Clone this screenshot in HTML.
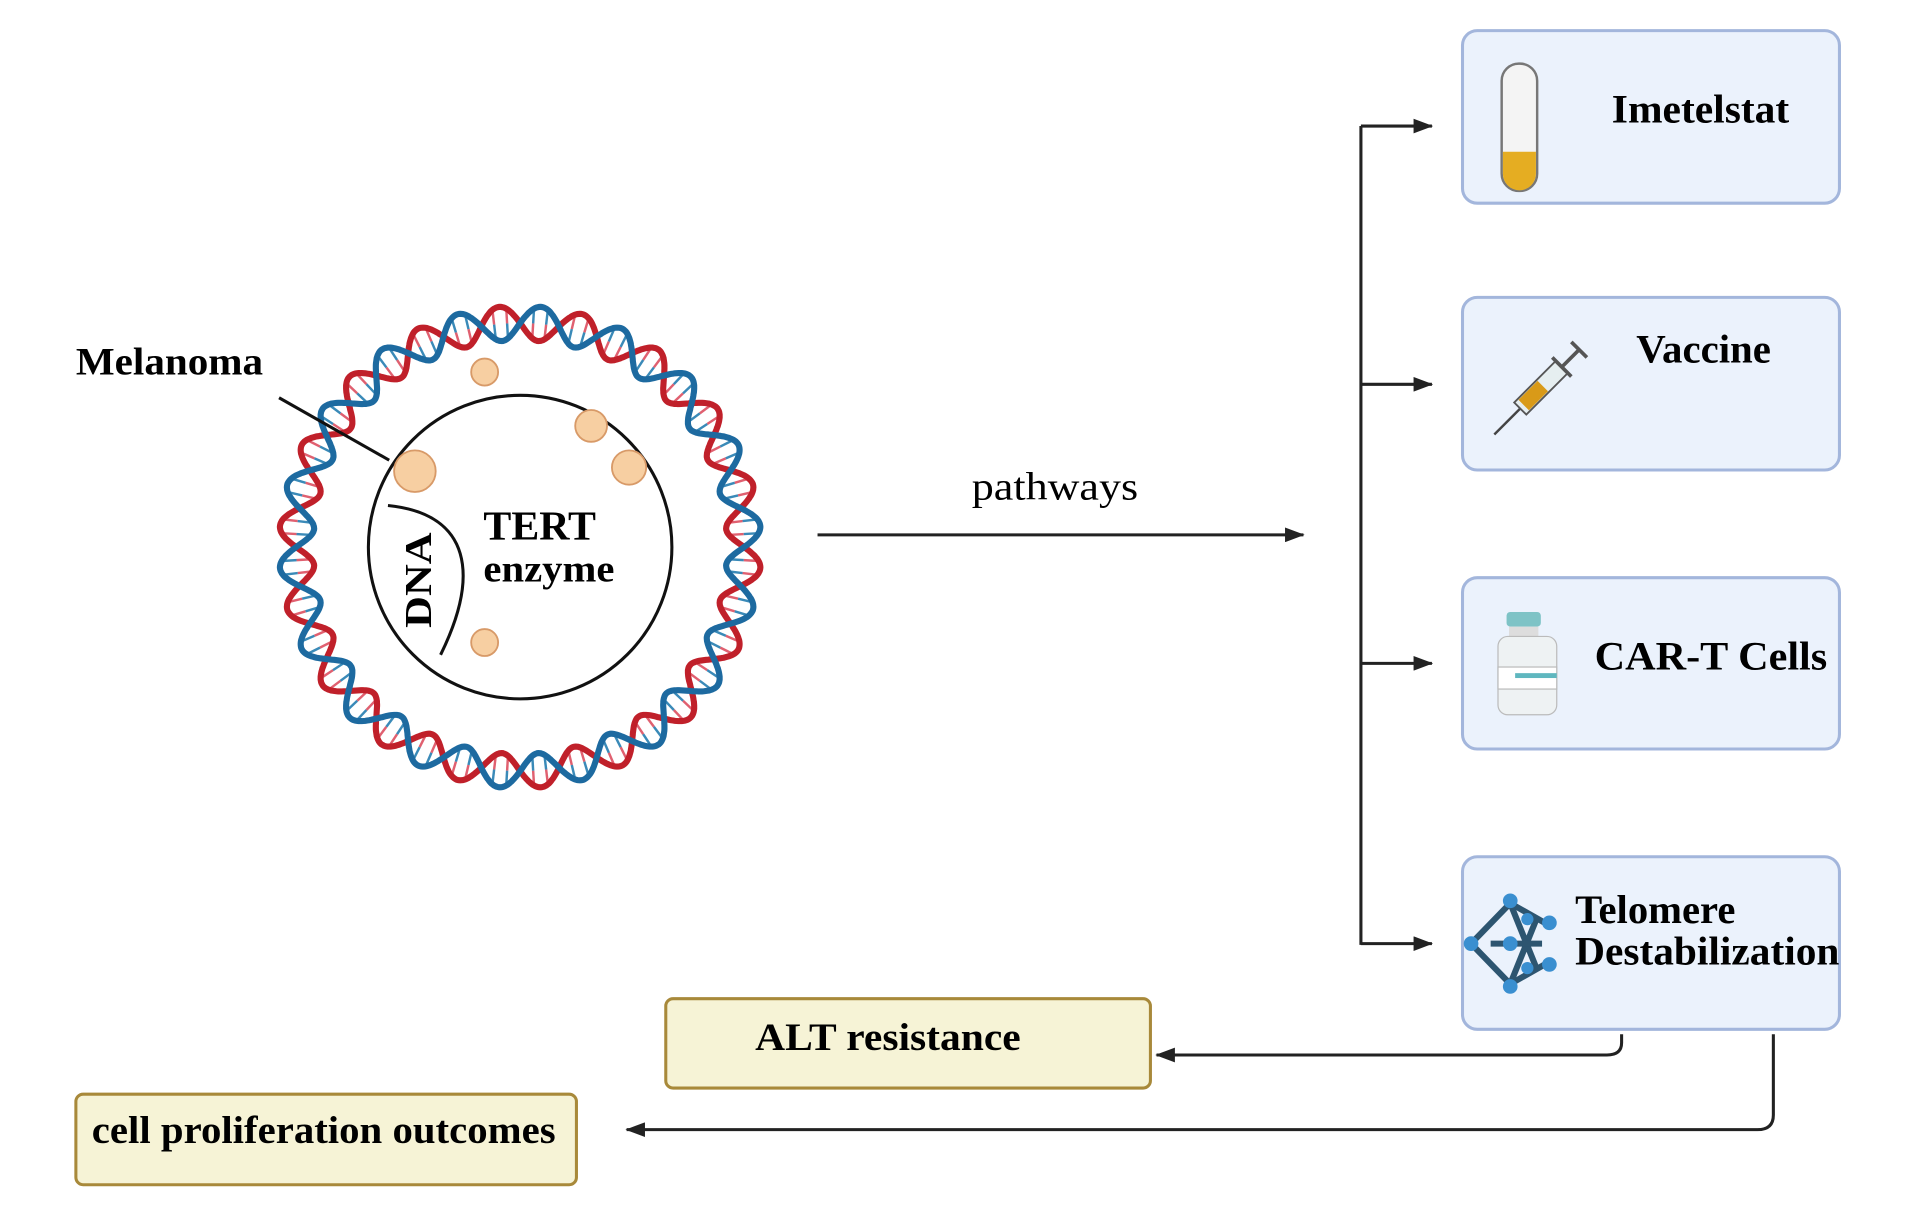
<!DOCTYPE html>
<html><head><meta charset="utf-8"><style>
html,body{margin:0;padding:0;background:#fff;}
svg{display:block;}
text{font-family:"Liberation Serif",serif;}
</style></head><body>
<svg id="s" width="1919" height="1219" viewBox="0 0 1568 996" preserveAspectRatio="none">
<defs><marker id="b" markerWidth="16" markerHeight="12" refX="15" refY="6" orient="auto" markerUnits="userSpaceOnUse"><path d="M0,0 L16,6 L0,12z" fill="#222"/></marker></defs>
<g id="helix"></g>
<circle cx="425" cy="447" r="124" fill="none" stroke="#111" stroke-width="2.5"/>
<path d="M317,413 C385,420 392,470 360,535" fill="none" stroke="#111" stroke-width="2.5"/>
<line x1="228" y1="325" x2="318" y2="376" stroke="#111" stroke-width="2.5"/>
<g fill="#f7cfa2" stroke="#d89a68" stroke-width="1.5">
<circle cx="339" cy="385" r="17"/><circle cx="396" cy="304" r="11"/><circle cx="483" cy="348" r="13"/><circle cx="514" cy="382" r="14"/><circle cx="396" cy="525" r="11"/></g>
<g font-weight="bold">
<text x="62" y="306" font-size="32" textLength="153" lengthAdjust="spacingAndGlyphs">Melanoma</text>
<text x="395" y="441" font-size="34" textLength="92" lengthAdjust="spacingAndGlyphs">TERT</text>
<text x="395" y="475" font-size="31" textLength="107" lengthAdjust="spacingAndGlyphs">enzyme</text>
<text transform="translate(352,513) rotate(-90)" font-size="31" textLength="78" lengthAdjust="spacingAndGlyphs">DNA</text>
</g>
<text x="794" y="408" font-size="32" textLength="136" lengthAdjust="spacingAndGlyphs">pathways</text>
<line x1="668" y1="437" x2="1065" y2="437" stroke="#222" stroke-width="2.5" marker-end="url(#b)"/>
<line x1="1112" y1="103" x2="1112" y2="772" stroke="#222" stroke-width="2.5"/>
<g stroke="#222" stroke-width="2.5" marker-end="url(#b)">
<line x1="1112" y1="103" x2="1170" y2="103"/><line x1="1112" y1="314" x2="1170" y2="314"/><line x1="1112" y1="542" x2="1170" y2="542"/><line x1="1112" y1="771" x2="1170" y2="771"/></g>
<g fill="#ebf2fc" stroke="#a3b6dc" stroke-width="2.5">
<rect x="1195" y="25" width="308" height="141" rx="12"/><rect x="1195" y="243" width="308" height="141" rx="12"/><rect x="1195" y="472" width="308" height="140" rx="12"/><rect x="1195" y="700" width="308" height="141" rx="12"/></g>
<g font-weight="bold" font-size="33" lengthAdjust="spacingAndGlyphs">
<text x="1317" y="100" textLength="145" lengthAdjust="spacingAndGlyphs">Imetelstat</text>
<text x="1337" y="296" textLength="110" lengthAdjust="spacingAndGlyphs">Vaccine</text>
<text x="1303" y="547" textLength="190" lengthAdjust="spacingAndGlyphs">CAR-T Cells</text>
<text x="1287" y="754" textLength="131" lengthAdjust="spacingAndGlyphs">Telomere</text>
<text x="1287" y="788" textLength="216" lengthAdjust="spacingAndGlyphs">Destabilization</text></g>
<rect x="1227" y="52" width="29" height="104" rx="14" fill="#f4f4f4" stroke="#777" stroke-width="2"/>
<path d="M1228,124 H1255 V142 A13.5,13.5 0 0 1 1228,142z" fill="#e5ad22"/>
<g transform="translate(1262,314) rotate(-45)"><line x1="-58" y1="0" x2="-28" y2="0" stroke="#444" stroke-width="2"/><rect x="-28" y="-7" width="48" height="14" fill="#e6eef0" stroke="#555" stroke-width="1.5"/><rect x="-24" y="-6" width="22" height="12" fill="#d99a18"/><line x1="20" y1="0" x2="40" y2="0" stroke="#555" stroke-width="3"/><line x1="40" y1="-9" x2="40" y2="9" stroke="#555" stroke-width="3"/><line x1="20" y1="-11" x2="20" y2="11" stroke="#555" stroke-width="3"/></g>
<rect x="1231" y="500" width="28" height="12" rx="3" fill="#7ec3c6"/><rect x="1233" y="512" width="24" height="10" fill="#ddd"/>
<rect x="1224" y="520" width="48" height="64" rx="8" fill="#eef2f3" stroke="#bbb"/><rect x="1224" y="545" width="48" height="18" fill="#fff" stroke="#bbb"/><rect x="1238" y="550" width="34" height="4" fill="#5fb7bf"/>
<g stroke="#2d5570" stroke-width="5"><line x1="1202" y1="771" x2="1234" y2="738"/><line x1="1202" y1="771" x2="1234" y2="804"/><line x1="1234" y1="738" x2="1264" y2="755"/><line x1="1234" y1="804" x2="1264" y2="787"/><line x1="1234" y1="738" x2="1255" y2="790"/><line x1="1234" y1="804" x2="1255" y2="752"/><line x1="1218" y1="771" x2="1260" y2="771"/></g>
<g fill="#3a8fd0"><circle cx="1202" cy="771" r="6"/><circle cx="1234" cy="736" r="6"/><circle cx="1234" cy="806" r="6"/><circle cx="1266" cy="754" r="6"/><circle cx="1266" cy="788" r="6"/><circle cx="1234" cy="771" r="6"/><circle cx="1248" cy="751" r="5"/><circle cx="1248" cy="791" r="5"/></g>
<g fill="#f6f3d6" stroke="#a8893a" stroke-width="2.5">
<rect x="544" y="816" width="396" height="73" rx="6"/><rect x="62" y="894" width="409" height="74" rx="6"/></g>
<text x="617" y="858" font-size="32" font-weight="bold" textLength="217" lengthAdjust="spacingAndGlyphs">ALT resistance</text>
<text x="75" y="934" font-size="32" font-weight="bold" textLength="379" lengthAdjust="spacingAndGlyphs">cell proliferation outcomes</text>
<path d="M1325,845 V852 Q1325,862 1313,862 H945" fill="none" stroke="#222" stroke-width="2.5" marker-end="url(#b)"/>
<path d="M1449,845 V911 Q1449,923 1436,923 H512" fill="none" stroke="#222" stroke-width="2.5" marker-end="url(#b)"/>
</svg>
<script>
(function(){
var g=document.getElementById('helix'),cx=425,cy=447,R=183,A=14,N=18,M=1200;
function pt(t,s){var r=R+s*A*Math.sin(N*t);return [cx+r*Math.cos(t),cy+r*Math.sin(t)];}
var h='';
for(var i=0;i<N*6;i++){var t=i*2*Math.PI/(N*6);var p=pt(t,1),q=pt(t,-1);var m=[(p[0]+q[0])/2,(p[1]+q[1])/2];
h+='<line x1="'+p[0]+'" y1="'+p[1]+'" x2="'+m[0]+'" y2="'+m[1]+'" stroke="#e06070" stroke-width="2"/>';
h+='<line x1="'+m[0]+'" y1="'+m[1]+'" x2="'+q[0]+'" y2="'+q[1]+'" stroke="#3a8ab8" stroke-width="2"/>';}
['#c0202a','#1d6aa0'].forEach(function(c,k){var d='';for(var i=0;i<=M;i++){var t=i*2*Math.PI/M;var p=pt(t,k?-1:1);d+=(i?'L':'M')+p[0].toFixed(1)+','+p[1].toFixed(1);}
h+='<path d="'+d+'" fill="none" stroke="'+c+'" stroke-width="5"/>';});
g.innerHTML=h;})();
</script>
</body></html>
